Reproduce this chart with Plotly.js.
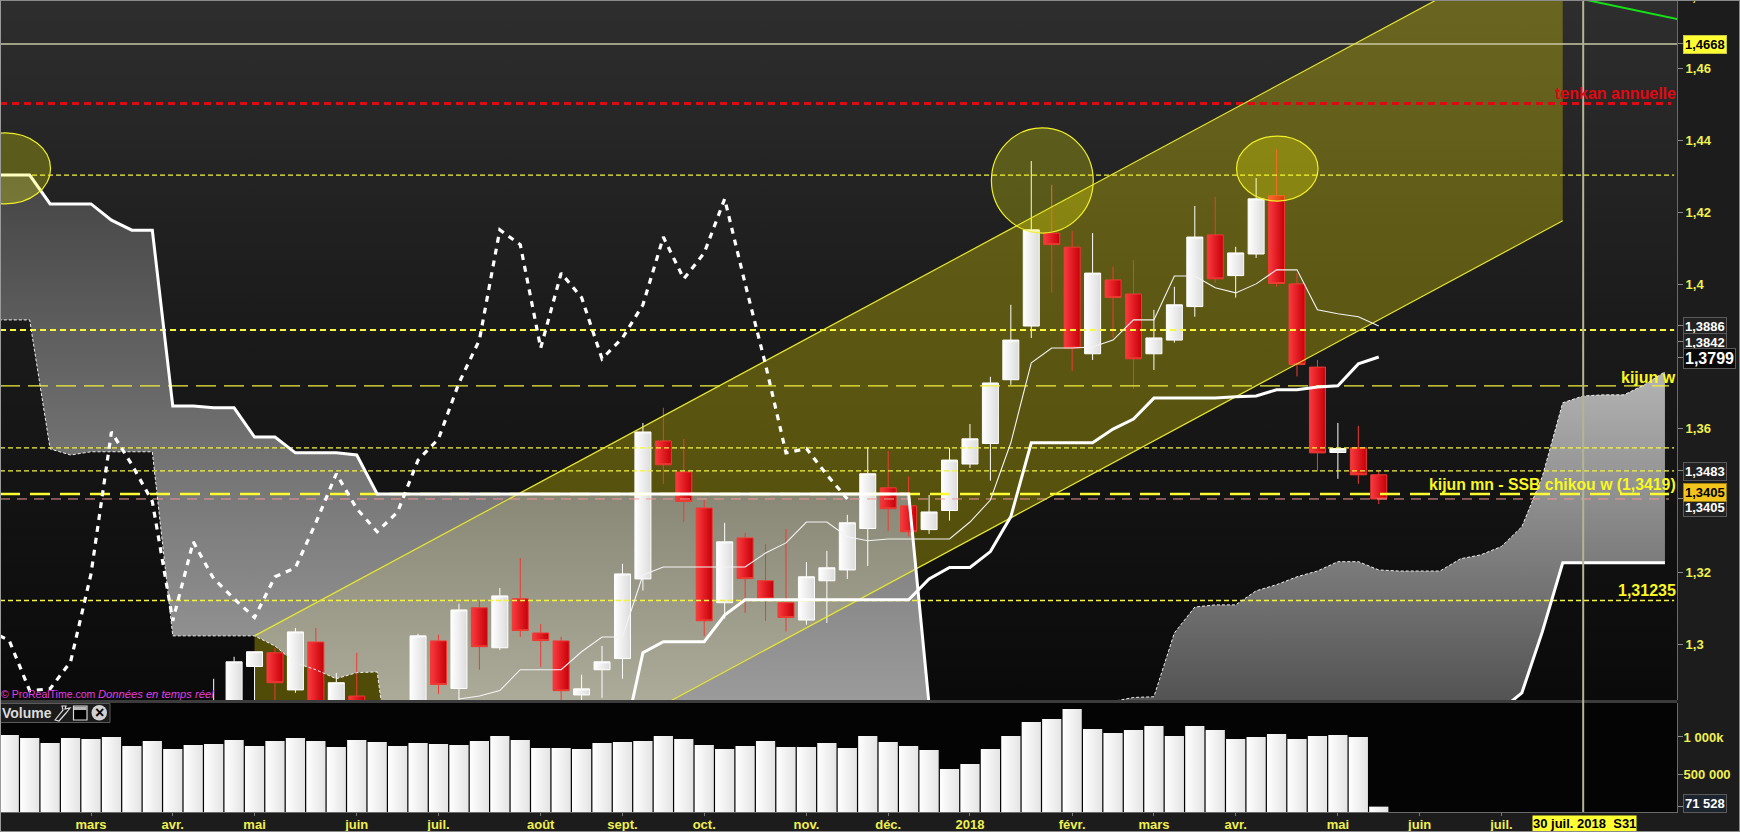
<!DOCTYPE html>
<html>
<head>
<meta charset="utf-8">
<script src="https://cdn.plot.ly/plotly-3.0.1.min.js"></script>
<style>
html,body{margin:0;padding:0;background:#1c1c1c;width:1740px;height:832px;overflow:hidden}
#bgMain{position:absolute;left:0;top:0;width:1677px;height:700px;background:linear-gradient(#2e2e2e 0,#1c1c1c 300px,#0a0a0a 700px)}
#bgSep{position:absolute;left:0;top:700px;width:1677px;height:3px;background:#3c3c3c}
#bgVol{position:absolute;left:0;top:703px;width:1677px;height:109px;background:#040404}
#frame{position:absolute;left:0;top:0;width:1738px;height:830px;border:1px solid #8a8a8a;border-left-color:#9a9a9a;pointer-events:none}
#chart{position:absolute;left:0;top:0;width:1740px;height:832px}
</style>
</head>
<body>
<div id="bgMain"></div><div id="bgSep"></div><div id="bgVol"></div>
<div id="chart"></div>
<div id="frame"></div>
<script>
// Weekly candles, week index 0 ... 67 (null: candle below the visible price range)
const candleWeeks = [0,1,2,3,4,5,6,7,8,9,10,11,12,13,14,15,16,17,18,19,20,21,22,23,24,25,26,27,28,29,30,31,32,33,34,35,36,37,38,39,40,41,42,43,44,45,46,47,48,49,50,51,52,53,54,55,56,57,58,59,60,61,62,63,64,65,66,67];
const opens = [null,null,null,null,null,null,null,null,null,null,1.2810,1.2792,1.2940,1.2978,1.2875,1.3008,1.2800,1.2858,null,null,1.2800,1.3011,1.2879,1.3103,1.2992,1.3128,1.3033,1.3011,1.2861,1.2931,1.2962,1.3183,1.3566,1.3480,1.3380,1.3117,1.3297,1.3178,1.3117,1.3069,1.3178,1.3208,1.3323,1.3436,1.3386,1.3320,1.3373,1.3502,1.3559,1.3736,1.3885,1.4143,1.4104,1.3808,1.4013,1.3974,1.3808,1.3846,1.3939,1.4138,1.4025,1.4085,1.4247,1.4002,1.3771,1.3534,1.3547,1.3472];
const highs = [null,null,null,null,null,null,null,null,null,null,1.2906,1.2967,1.2981,1.2992,1.3047,1.3047,1.2922,1.2978,null,null,1.3031,1.3028,1.3114,1.3123,1.3158,1.3241,1.3058,1.3022,1.2917,1.2997,1.3225,1.3616,1.3658,1.3572,1.3402,1.3339,1.3311,1.3280,1.3322,1.3230,1.3261,1.3361,1.3549,1.3538,1.3467,1.3416,1.3547,1.3613,1.3744,1.3944,1.4343,1.4277,1.4149,1.4143,1.4050,1.4068,1.3930,1.3994,1.4218,1.4244,1.4105,1.4296,1.4376,1.4032,1.3791,1.3616,1.3608,1.3483];
const lows = [null,null,null,null,null,null,null,null,null,null,1.2800,1.2780,1.2830,1.2830,1.2867,1.2770,1.2790,1.2790,null,null,1.2790,1.2864,1.2847,1.2931,1.2986,1.3022,1.2939,1.2840,1.2840,1.2853,1.2906,1.3151,1.3447,1.3341,1.3025,1.3073,1.3089,1.3067,1.3037,1.3056,1.3061,1.3183,1.3219,1.3316,1.3301,1.3308,1.3345,1.3491,1.3456,1.3722,1.3852,1.3978,1.3760,1.3791,1.3852,1.3710,1.3763,1.3839,1.3911,1.4005,1.3964,1.4074,1.3994,1.3745,1.3481,1.3461,1.3447,1.3391];
const closes = [null,null,null,null,null,null,null,null,null,null,1.2833,1.2953,1.2981,1.2895,1.3036,1.2792,1.2895,1.2810,null,null,1.3025,1.2890,1.3097,1.2995,1.3136,1.3040,1.3012,1.2873,1.2878,1.2953,1.3197,1.3591,1.3500,1.3398,1.3067,1.3286,1.3184,1.3128,1.3076,1.3189,1.3214,1.3339,1.3475,1.3378,1.3314,1.3369,1.3513,1.3572,1.3727,1.3846,1.4152,1.4111,1.3824,1.4032,1.3964,1.3794,1.3852,1.3944,1.4132,1.4016,1.4088,1.4238,1.4003,1.3778,1.3533,1.3545,1.3472,1.3405];
const volumes = [1027000,987000,920000,987000,973000,1000000,880000,947000,840000,893000,907000,960000,880000,947000,987000,947000,867000,960000,933000,880000,920000,907000,893000,947000,1013000,960000,853000,853000,840000,920000,933000,947000,1013000,973000,893000,840000,880000,947000,867000,867000,920000,853000,1013000,933000,880000,827000,573000,640000,840000,1013000,1200000,1240000,1373000,1107000,1053000,1093000,1147000,1013000,1147000,1093000,973000,1000000,1040000,973000,1013000,1027000,1000000,71528];

// Ichimoku lines
const tenkanWeeks = [22,23,24,25,26,27,28,29,30,31,32,33,34,35,36,37,38,39,40,41,42,43,44,45,46,47,48,49,50,51,52,53,54,55,56,57,58,59,60,61,62,63,64,65,66,67];
const tenkan = [1.2850,1.2858,1.2873,1.2931,1.2931,1.2931,1.2981,1.3022,1.3022,1.3194,1.3216,1.3216,1.3216,1.3216,1.3216,1.3255,1.3283,1.3341,1.3341,1.3300,1.3289,1.3294,1.3294,1.3294,1.3294,1.3341,1.3402,1.3561,1.3783,1.3824,1.3824,1.3827,1.3846,1.3902,1.3902,1.4024,1.4024,1.3991,1.3977,1.4002,1.4041,1.4041,1.3930,1.3919,1.3911,1.3885];
const kijunWeeks = [29,30,31,32,33,34,35,36,37,38,39,40,41,42,43,44,45,46,47,48,49,50,51,52,53,54,55,56,57,58,59,60,61,62,63,64,65,66,67];
const kijun = [1.2600,1.2717,1.2978,1.3009,1.3009,1.3009,1.3083,1.3125,1.3125,1.3125,1.3125,1.3125,1.3125,1.3125,1.3125,1.3125,1.3183,1.3215,1.3215,1.3259,1.3356,1.3561,1.3561,1.3561,1.3561,1.3599,1.3627,1.3685,1.3685,1.3685,1.3685,1.3689,1.3691,1.3708,1.3708,1.3716,1.3719,1.3780,1.3799];
const chikouWeeks = [-1,0,1,2,3,4,5,6,7,8,9,10,11,12,13,14,15,16,17,18,19,20,21,22,23,24,25,26,27,28,29,30,31,32,33,34,35,36,37,38,39,40,41];
const chikou = [1.3040,1.3012,1.2873,1.2878,1.2953,1.3197,1.3591,1.3500,1.3398,1.3067,1.3286,1.3184,1.3128,1.3076,1.3189,1.3214,1.3339,1.3475,1.3378,1.3314,1.3369,1.3513,1.3572,1.3727,1.3846,1.4152,1.4111,1.3824,1.4032,1.3964,1.3794,1.3852,1.3944,1.4132,1.4016,1.4088,1.4238,1.4003,1.3778,1.3533,1.3545,1.3472,1.3405];
const cloudWeeks = [-1,0,1,2,3,4,5,6,7,8,9,10,11,12,13,14,15,16,17,18,19,20,21,22,23,24,25,26,27,28,29,30,31,32,33,34,35,36,37,38,39,40,41,42,43,44,45,46,47,48,49,50,51,52,53,54,55,56,57,58,59,60,61,62,63,64,65,66,67,68,69,70,71,72,73,74,75,76,77,78,79,80,81];
const senkouA = [1.3902,1.3902,1.3902,1.3544,1.3527,1.3536,1.3536,1.3536,1.3536,1.3025,1.3025,1.3025,1.3025,1.3025,1.2997,1.2950,1.2931,1.2906,1.2923,1.2925,1.25,1.25,1.25,1.25,1.25,1.25,1.25,1.25,1.25,1.25,1.25,1.25,1.25,1.25,1.25,1.25,1.25,1.25,1.25,1.25,1.25,1.25,1.25,1.25,1.25,1.25,1.25,1.25,1.25,1.25,1.25,1.25,1.25,1.25,1.25,1.2843,1.2854,1.2856,1.3033,1.3105,1.3111,1.3111,1.3150,1.3167,1.3189,1.3205,1.3231,1.3231,1.3208,1.3205,1.3205,1.3205,1.3239,1.3250,1.3273,1.3328,1.3467,1.3672,1.3691,1.3694,1.3694,1.3722,1.3758];
const senkouB = [1.4304,1.4304,1.4304,1.4224,1.4224,1.4224,1.4179,1.4151,1.4151,1.3663,1.3663,1.3658,1.3658,1.3577,1.3577,1.3533,1.3533,1.3533,1.3527,1.3419,1.3419,1.3419,1.3419,1.3419,1.3419,1.3419,1.3419,1.3419,1.3419,1.3419,1.3419,1.3419,1.3419,1.3419,1.3419,1.3419,1.3419,1.3419,1.3419,1.3419,1.3419,1.3419,1.3419,1.3419,1.3419,1.3419,1.2834,1.25,1.25,1.25,1.25,1.25,1.25,1.25,1.25,1.25,1.25,1.25,1.25,1.25,1.25,1.25,1.25,1.25,1.25,1.25,1.25,1.25,1.25,1.25,1.25,1.25,1.25,1.25,1.2820,1.2867,1.3036,1.3228,1.3228,1.3228,1.3228,1.3228,1.3228];

// Rising channel
const channelWeeks = [12,76];
const channelUpper = [1.3025,1.4979];
const channelLower = [1.2223,1.4177];

// Long-term weekly trend, top right
const greenWeeks = [77,81.6];
const greenValues = [1.4792,1.4737];

// Horizontal levels
const levelValues = [1.4668,1.4503,1.4304,1.3874,1.3719,1.3547,1.3483,1.3419,1.3405,1.31235];
const levelEnds =   [81.6,81.3,81.45,81.45,81.2,81.45,81.45,81.2,81.2,81.45];
const levelColors = ['#c8c8a4','#e00812','#f4f43c','#f8f83c','#f0f03c','#f4f43c','#f4f43c','#fcfc30','#ee9a9a','#f4f43c'];
const levelWidths = [1.5,3,1.2,2,1.4,1.2,1.2,2.6,1,1.5];
const levelDashes = ['solid','7px,5px','5px,3px','6px,4px','20px,8px','5px,3px','5px,3px','20px,10px','10px,7px','5px,3px'];

// Axes
const monthTicks = [4,8,12,17,21,26,30,34,39,43,47,52,56,60,65,69,73];
const monthLabels = ['mars','avr.','mai','juin','juil.','août','sept.','oct.','nov.','déc.','2018','févr.','mars','avr.','mai','juin','juil.'];
const priceTicks = [1.46,1.44,1.42,1.40,1.36,1.32,1.30,1.4668,1.3886,1.3842,1.3799,1.3483,1.3405];
const priceLabels = ['1,46','1,44','1,42','1,4','1,36','1,32','1,3','','','','','',''];
const volumeTicks = [1000000,500000,71528];
const volumeLabels = ['1 000k','500 000',''];
const priceRange = [1.2847,1.4790];
const weekRange = [-0.4525,81.59];
const crosshairWeek = 77;

const FONT = '"Liberation Sans", Arial, sans-serif';
const PW = 1677, PH = 812;
const X = p => p / PW, Y = p => 1 - p / PH;

function between(a, b, from, to) {
  const i0 = cloudWeeks.indexOf(from), i1 = cloudWeeks.indexOf(to);
  const xs = cloudWeeks.slice(i0, i1 + 1);
  return {
    x: xs.concat(xs.slice().reverse()),
    y: a.slice(i0, i1 + 1).concat(b.slice(i0, i1 + 1).reverse())
  };
}
const leftCloud = between(senkouB, senkouA, -1, 45);
const rightCloud = between(senkouA, senkouB, 53, 81);

const traces = [];
// --- fill layer
traces.push({type:'scatter',mode:'none',xaxis:'x',yaxis:'y',hoverinfo:'skip',showlegend:false,
  x:channelWeeks.concat(channelWeeks.slice().reverse()),
  y:channelUpper.concat(channelLower.slice().reverse()),
  fill:'toself',fillcolor:'rgba(255,238,0,0.285)'});
traces.push({type:'scatter',mode:'none',xaxis:'x',yaxis:'y',hoverinfo:'skip',showlegend:false,
  x:leftCloud.x,y:leftCloud.y,fill:'toself',
  fillgradient:{type:'vertical',colorscale:[[0,'rgba(232,232,232,0.75)'],[1,'rgba(80,80,80,0.75)']]}});
traces.push({type:'scatter',mode:'none',xaxis:'x',yaxis:'y',hoverinfo:'skip',showlegend:false,
  x:rightCloud.x,y:rightCloud.y,fill:'toself',
  fillgradient:{type:'vertical',colorscale:[[0,'rgba(61,61,61,0.75)'],[1,'rgba(231,231,231,0.75)']]}});
// --- candles
traces.push({type:'candlestick',xaxis:'x',yaxis:'y3',hoverinfo:'skip',showlegend:false,
  x:candleWeeks,open:opens,high:highs,low:lows,close:closes,whiskerwidth:0,
  increasing:{line:{color:'#ffffff',width:1},fillcolor:'#f2f2f2'},
  decreasing:{line:{color:'#ec3c34',width:1},fillcolor:'#e61a22'}});
// --- lines
function line(x,y,color,width,dash){
  return {type:'scatter',mode:'lines',xaxis:'x',yaxis:'y4',hoverinfo:'skip',showlegend:false,x:x,y:y,
    line:{color:color,width:width,dash:dash||'solid'},connectgaps:false};
}
levelValues.forEach((v,k)=>traces.push(line([-0.4525,levelEnds[k]],[v,v],levelColors[k],levelWidths[k],levelDashes[k])));
traces.push(line(channelWeeks,channelUpper,'#e6e632',1.2));
traces.push(line(channelWeeks,channelLower,'#e6e632',1.2));
traces.push(line(cloudWeeks,senkouA,'#f0f0f0',1,'3px,2px'));
traces.push(line(cloudWeeks,senkouB,'#ffffff',3));
traces.push(line(tenkanWeeks,tenkan,'#f4f4f4',1.1));
traces.push(line(kijunWeeks,kijun,'#ffffff',3));
traces.push(line(chikouWeeks,chikou,'#ffffff',3.2,'6px,6px'));
traces.push(line(greenWeeks,greenValues,'#18e018',2));
// --- volume
traces.push({type:'bar',xaxis:'x',yaxis:'y2',hoverinfo:'skip',showlegend:false,x:candleWeeks,y:volumes,width:0.94,
  marker:{color:'#f6f6f6',line:{width:0}}});

const shapes = [
  {type:'circle',xref:'x',yref:'y4',x0:48.05,x1:53.03,y0:1.4143,y1:1.4435,fillcolor:'rgba(255,255,0,0.25)',line:{color:'#f0f028',width:1.2}},
  {type:'circle',xref:'x',yref:'y4',x0:60.04,x1:64.03,y0:1.4232,y1:1.4412,fillcolor:'rgba(255,255,0,0.25)',line:{color:'#f0f028',width:1.2}},
  {type:'circle',xref:'x',yref:'y4',x0:-2.4,x1:2.02,y0:1.4224,y1:1.4421,fillcolor:'rgba(255,255,0,0.25)',line:{color:'#f0f028',width:1.2}},
  {type:'line',xref:'x',yref:'paper',x0:crosshairWeek,x1:crosshairWeek,y0:0,y1:1,line:{color:'#b4b498',width:2}},
  // Volume caption box and its icons
  {type:'rect',xref:'paper',yref:'paper',x0:X(0),x1:X(110),y0:Y(703.5),y1:Y(722.5),fillcolor:'#1b1b1b',line:{color:'#5a5a5a',width:1}},
  {type:'rect',xref:'paper',yref:'paper',x0:X(73.5),x1:X(87),y0:Y(706),y1:Y(720),fillcolor:'#000000',line:{color:'#d8d8d8',width:1.2}},
  {type:'rect',xref:'paper',yref:'paper',x0:X(74),x1:X(86.5),y0:Y(706.5),y1:Y(710),fillcolor:'#b8b8b8',line:{width:0}},
  {type:'circle',xref:'paper',yref:'paper',x0:X(91.5),x1:X(107),y0:Y(705),y1:Y(720.5),fillcolor:'#d0d0d0',line:{width:0}},
  {type:'path',xref:'paper',yref:'paper',line:{color:'#dcdcdc',width:1.2},
   path:`M ${X(55)} ${Y(720)} L ${X(63)} ${Y(710)} L ${X(62)} ${Y(706)} L ${X(66)} ${Y(706)} L ${X(65)} ${Y(709)} L ${X(70)} ${Y(708)} L ${X(66)} ${Y(713)} L ${X(59)} ${Y(721)} Z`}
];

function note(text,px,py,anchor,color,size,bold,italic){
  return {xref:'paper',yref:'paper',x:X(px),y:Y(py),xanchor:anchor,yanchor:'middle',showarrow:false,
    text:text,font:{family:FONT,size:size,color:color,weight:bold?700:400,style:italic?'italic':'normal'},borderpad:0,borderwidth:0};
}
function flag(text,px,py,color,bg,border,size){
  return {xref:'paper',yref:'paper',x:X(px),y:Y(py),xanchor:'left',yanchor:'middle',showarrow:false,
    text:text,font:{family:FONT,size:size||13,color:color,weight:700},bgcolor:bg,bordercolor:border,borderwidth:1,borderpad:1};
}
const annotations = [
  note('tenkan annuelle',1676,93,'right','#e00812',16,true),
  note('kijun w',1676,377,'right','#f8f820',16,true),
  note('kijun mn - SSB chikou w (1,3419)',1676,484,'right','#f8f820',15.8,true),
  note('1,31235',1676,590,'right','#f8f820',16,true),
  note('1,48',1685,-3,'left','#eeee60',13,true),
  note('© ProRealTime.com',1,694,'left','#e23ee2',10.5,false),
  note('Données en temps réel',98,694,'left','#e23ee2',11.2,false,true),
  note('Volume',2,713,'left','#dcdcdc',14,true),
  note('×',99.2,712.5,'center','#000000',16,true),
  flag('1,4668',1683,45,'#000000','#ffff33','#c8c840',13),
  flag('1,3886',1683,326,'#ffffff','#222222','#5a5a5a'),
  flag('1,3842',1683,342,'#ffffff','#222222','#5a5a5a'),
  flag('1,3799',1683,358,'#ffffff','#0a0a0a','#5a5a5a',16),
  flag('1,3483',1683,471,'#ffffff','#222222','#5a5a5a'),
  flag('1,3405',1683,507,'#ffffff','#222222','#5a5a5a'),
  flag('1,3405',1683,492,'#000000','#f2c41c','#a08010'),
  flag('71 528',1683,803,'#ffffff','#1c2430','#5a5a5a'),
  {xref:'paper',yref:'paper',x:X(1584.5),y:Y(823),xanchor:'center',yanchor:'middle',showarrow:false,
   text:'30 juil. 2018  S31',font:{family:FONT,size:13,color:'#000000',weight:700},bgcolor:'#ffff33',borderpad:0}
];

const hiddenY = {overlaying:'y',anchor:'x',side:'right',range:priceRange,visible:false,fixedrange:true,showgrid:false,zeroline:false};
const layout = {
  width:1740,height:832,margin:{l:0,r:63,t:0,b:20,pad:0},
  paper_bgcolor:'rgba(0,0,0,0)',plot_bgcolor:'rgba(0,0,0,0)',showlegend:false,
  font:{family:FONT},
  xaxis:{anchor:'y2',domain:[0,1],range:weekRange,fixedrange:true,rangeslider:{visible:false},showgrid:false,zeroline:false,
    tickmode:'array',tickvals:monthTicks,ticktext:monthLabels,ticks:'outside',ticklen:3,tickcolor:'#777777',ticklabelstandoff:-3,
    tickfont:{family:FONT,size:13,color:'#f0f050',weight:700},showline:true,linecolor:'#6a6a6a',linewidth:1},
  yaxis:{domain:[112/812,1],range:priceRange,side:'right',anchor:'x',fixedrange:true,showgrid:false,zeroline:false,
    tickmode:'array',tickvals:priceTicks,ticktext:priceLabels,ticks:'outside',ticklen:5,tickcolor:'#8a8a8a',
    tickfont:{family:FONT,size:13,color:'#f0f050',weight:700},showline:true,linecolor:'#6a6a6a',linewidth:1},
  yaxis2:{domain:[0,109/812],range:[0,1453000],side:'right',anchor:'x',fixedrange:true,showgrid:false,zeroline:false,
    tickmode:'array',tickvals:volumeTicks,ticktext:volumeLabels,ticks:'outside',ticklen:5,tickcolor:'#8a8a8a',ticklabelstandoff:-2,
    tickfont:{family:FONT,size:13,color:'#f0f050',weight:700},showline:true,linecolor:'#6a6a6a',linewidth:1},
  yaxis3:Object.assign({},hiddenY),
  yaxis4:Object.assign({},hiddenY),
  shapes:shapes,annotations:annotations,bargap:0.06,boxgap:0.1,boxgroupgap:0.13
};

function addGradients(gd){
  const svg = gd.querySelector('svg.main-svg');
  const NS = 'http://www.w3.org/2000/svg';
  const defs = document.createElementNS(NS,'defs');
  const grad = (id,a,b)=>{
    const g = document.createElementNS(NS,'linearGradient');
    g.setAttribute('id',id);g.setAttribute('x1','0');g.setAttribute('x2','1');g.setAttribute('y1','0');g.setAttribute('y2','0');
    [[0,a],[1,b]].forEach(s=>{const st=document.createElementNS(NS,'stop');st.setAttribute('offset',s[0]);st.setAttribute('stop-color',s[1]);g.appendChild(st);});
    defs.appendChild(g);
  };
  grad('gWhite','#ffffff','#dcdcdc');
  grad('gRed','#fb3a3e','#c60008');
  grad('gVol','#ffffff','#e4e4e4');
  svg.insertBefore(defs,svg.firstChild);
  gd.querySelectorAll('path.box').forEach(p=>{
    const red = p.style.stroke.indexOf('255, 255, 255')<0;
    p.style.fill = 'url(#'+(red?'gRed':'gWhite')+')';
  });
  gd.querySelectorAll('.barlayer .point path').forEach(p=>{p.style.fill='url(#gVol)';});
}
Plotly.newPlot('chart',traces,layout,{staticPlot:true,displayModeBar:false,responsive:false}).then(addGradients);
</script>
</body>
</html>
